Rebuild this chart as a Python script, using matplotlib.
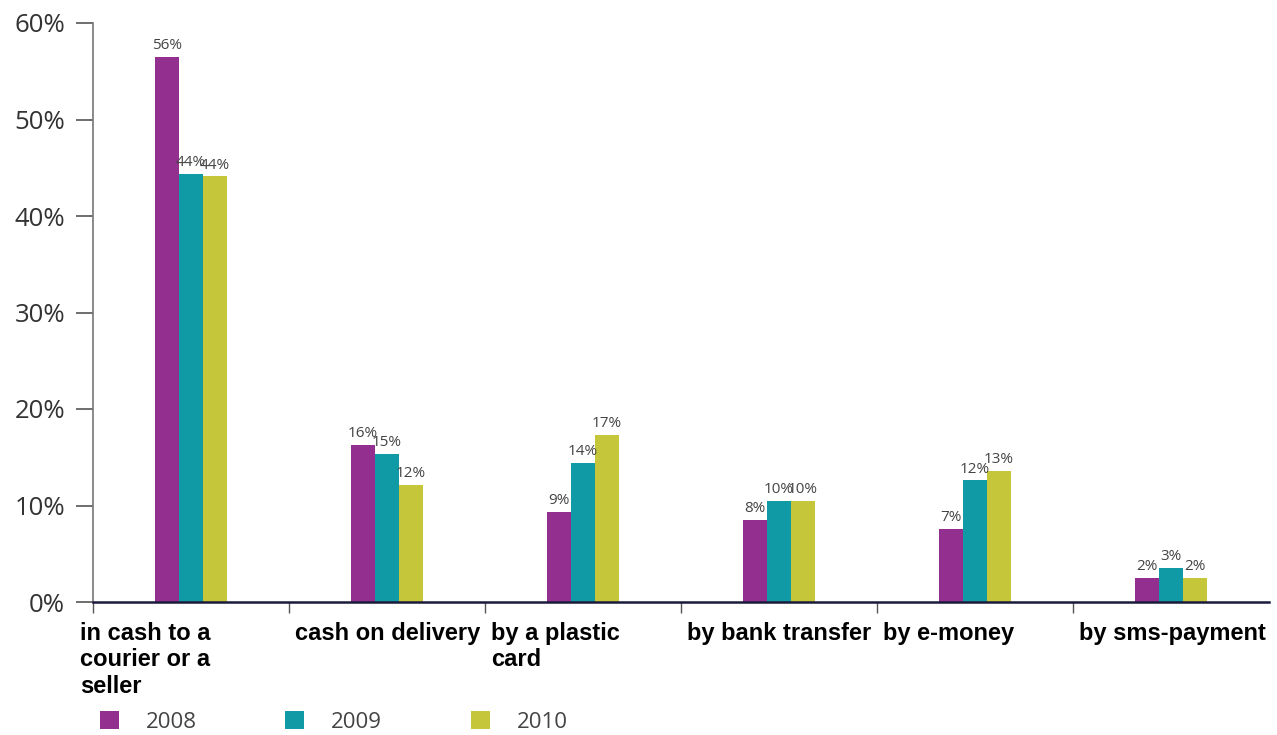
import matplotlib
matplotlib.use("Agg")
import matplotlib.pyplot as plt
from matplotlib.patches import Patch
from matplotlib.transforms import blended_transform_factory

# data
categories = ["in cash to a\ncourier or a\nseller", "cash on delivery", "by a plastic\ncard",
              "by bank transfer", "by e-money", "by sms-payment"]
years = ["2008", "2009", "2010"]
v2008 = [56.5, 16.3, 9.3, 8.5, 7.6, 2.5]
v2009 = [44.4, 15.3, 14.4, 10.5, 12.6, 3.5]
v2010 = [44.1, 12.1, 17.3, 10.5, 13.6, 2.5]
lab2008 = ["56%", "16%", "9%", "8%", "7%", "2%"]
lab2009 = ["44%", "15%", "14%", "10%", "12%", "3%"]
lab2010 = ["44%", "12%", "17%", "10%", "13%", "2%"]
yticks = [0, 10, 20, 30, 40, 50, 60]

colors = ["#93308f", "#0f9aa6", "#c6c63a"]

fig = plt.figure(figsize=(12.77, 7.35), dpi=100)
ax = fig.add_axes([93 / 1277, 1 - 602 / 735, (1269 - 93) / 1277, (602 - 23) / 735])

w = 0.1224
series = [v2008, v2009, v2010]
labels = [lab2008, lab2009, lab2010]
for k, (vals, labs) in enumerate(zip(series, labels)):
    xs = [i + 0.5 + (k - 1) * w for i in range(len(categories))]
    ax.bar(xs, vals, width=w, color=colors[k], linewidth=0)
    for x, v, t in zip(xs, vals, labs):
        ax.text(x, v + 0.4, t, ha="center", va="bottom", fontsize=11,
                color="#444444", family="Open Sans")

ax.set_xlim(0, len(categories))
ax.set_ylim(0, 60)
ax.set_yticks(yticks)
ax.set_yticklabels([f"{t}%" for t in yticks], fontsize=18.5, color="#333333", family="Open Sans")
ax.tick_params(axis="y", length=12, width=1.2, color="#555555", pad=8)
ax.set_xticks(range(len(categories)))
ax.set_xticklabels([])
ax.tick_params(axis="x", length=8, width=1, color="#555555", direction="out")

for s in ["top", "right"]:
    ax.spines[s].set_visible(False)
ax.spines["left"].set_color("#777777")
ax.spines["left"].set_linewidth(1.2)
ax.spines["bottom"].set_color("#1a1a3a")
ax.spines["bottom"].set_linewidth(1.8)

trans = blended_transform_factory(ax.transData, ax.transAxes)
for i, c in enumerate(categories):
    off = -0.066 if i == 0 else 0.03
    ax.text(i + off, -0.034, c, transform=trans, ha="left", va="top", fontsize=17,
            fontweight="bold", family="Liberation Sans", color="black", linespacing=1.2)

handles = [Patch(facecolor=col, edgecolor="none") for col in colors]
fig.legend(handles, years, loc="lower left", bbox_to_anchor=(100 / 1277, 2 / 735),
           ncol=3, frameon=False, prop={"family": "Open Sans", "size": 16},
           handlelength=0.85, handleheight=0.85, handletextpad=1.2, columnspacing=4.0,
           borderpad=0, borderaxespad=0, labelcolor="#444444")

fig.savefig("out.png", dpi=100)
